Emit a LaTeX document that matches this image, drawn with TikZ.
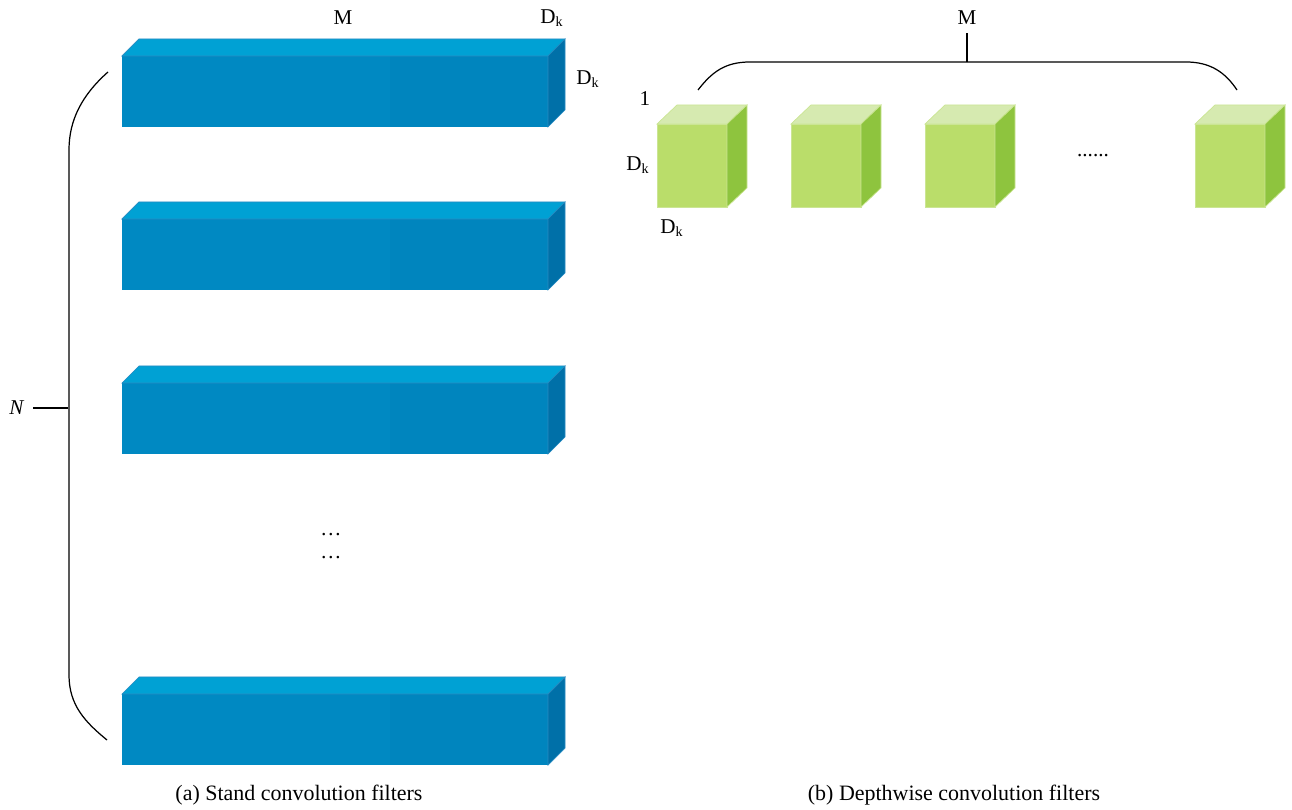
\documentclass[tikz,border=0pt]{standalone}
\usepackage{fontspec}
\setmainfont{Liberation Serif}
\usepackage{tikz}
\usetikzlibrary{positioning}

\definecolor{barfront}{RGB}{0,137,194}
\definecolor{barfrontb}{RGB}{0,133,190}
\definecolor{bartop}{RGB}{0,161,212}
\definecolor{barside}{RGB}{0,112,168}
\definecolor{cubefront}{RGB}{186,221,106}
\definecolor{cubetop}{RGB}{214,234,176}
\definecolor{cubeside}{RGB}{142,196,62}

\begin{document}
\begin{tikzpicture}[x={(0.02cm,0)}, y={(0,-0.02cm)},
		bar/.style={draw=cyan!30!barfront, line width=0.4pt},
		cube/.style={draw=cubetop!60!cubefront, line width=0.4pt},
		brace/.style={draw=black, line width=0.7pt},
		lbl/.style={inner sep=1pt, font=\fontsize{12}{14}\selectfont},
		caption/.style={inner sep=1pt, font=\fontsize{12.5}{15}\selectfont}]
	\useasboundingbox (0,0) rectangle (1292,810);

	% standard filters: long bars
	\foreach \y in {56,219,383,694}{
		\fill[barfront] (122,\y) rectangle (390,\y+71);
		\fill[barfrontb] (390,\y) rectangle (548,\y+71);
		\filldraw[bar, fill=bartop] (122,\y) -- (139,\y-17) -- (565,\y-17) -- (548,\y) -- cycle;
		\filldraw[bar, fill=barside] (548,\y) -- (565,\y-17) -- (565,\y+54) -- (548,\y+71) -- cycle;
	}

	% depthwise filters: one cube per channel
	\foreach \x in {657,791,925,1195}{
		\filldraw[cube, fill=cubefront] (\x,124) rectangle (\x+70,207);
		\filldraw[cube, fill=cubetop] (\x,124) -- (\x+20,105) -- (\x+90,105) -- (\x+70,124) -- cycle;
		\filldraw[cube, fill=cubeside] (\x+70,124) -- (\x+90,105) -- (\x+90,188) -- (\x+70,207) -- cycle;
	}

	% labels
	\node[lbl] (Mbar) at (343,18) {M};
	\node[lbl] (Dtop) at (552,18) {D\textsubscript{k}};
	\node[lbl] (Dside) at (588,79) {D\textsubscript{k}};
	\node[lbl] (N) at (17,408) {\textit{N}};
	\node[lbl] (dots1) at (331,535) {\ldots};
	\node[lbl] (dots2) at (331,558) {\ldots};

	\node[lbl] (Mcube) at (967,18) {M};
	\node[lbl] (one) at (645,99) {1};
	\node[lbl] (Dh) at (638,165) {D\textsubscript{k}};
	\node[lbl] (Dw) at (672,228) {D\textsubscript{k}};
	\node[lbl] (more) at (1093,156) {......};

	% braces
	\coordinate (Ntick) at (68,408);
	\draw[brace] (33,408) -- (Ntick);
	\draw[brace] (108,72) .. controls (82,95) and (69,120) .. (69,150) -- (69,675)
		.. controls (69,705) and (85,722) .. (107,740);
	\coordinate (Mtick) at (967,62);
	\draw[brace] (Mcube.south) ++(0,6) -- (Mtick);
	\draw[brace] (698,90) .. controls (712,72) and (725,62) .. (750,62) -- (1186,62)
		.. controls (1210,62) and (1225,72) .. (1237,90);

	% captions
	\node[caption] (capa) at (299,795) {(a) Stand convolution filters};
	\node[caption] (capb) at (954,795) {(b) Depthwise convolution filters};
\end{tikzpicture}
\end{document}
